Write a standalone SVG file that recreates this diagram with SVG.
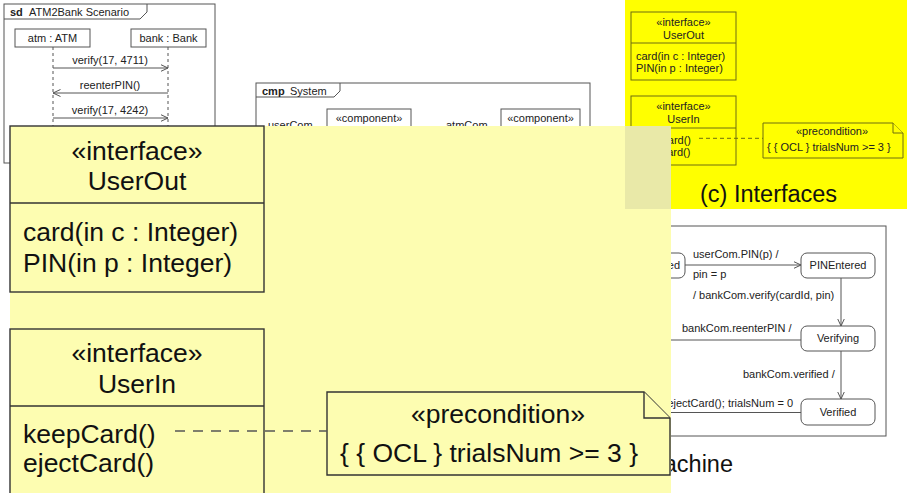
<svg xmlns="http://www.w3.org/2000/svg" width="907" height="493" viewBox="0 0 907 493">
  <style>
    text { font-family: "Liberation Sans", Arial, sans-serif; fill: #222; }
    .s { font-size: 11px; }
    .b { font-weight: bold; }
    .mid { text-anchor: middle; }
    .end { text-anchor: end; }
    .frame { fill: #fff; stroke: #555; stroke-width: 1; }
    .box { fill: #fff; stroke: #555; stroke-width: 1; }
    .line { fill: none; stroke: #555; stroke-width: 1; }
    .life { fill: none; stroke: #555; stroke-width: 1; stroke-dasharray: 3 3; }
    .ybox { fill: #ffff00; stroke: #6e6e10; stroke-width: 1; }
    .ydash { fill: none; stroke: #6e6e10; stroke-width: 1; stroke-dasharray: 4 3; }
    .state { fill: #fff; stroke: #555; stroke-width: 1; }
    .big { font-size: 26.5px; fill: #111; }
    .bbox { fill: #fdfdb1; stroke: #333; stroke-width: 1.4; }
    .bdash { fill: none; stroke: #555; stroke-width: 1.4; stroke-dasharray: 10 8; }
    .cap { font-size: 23.5px; fill: #111; }
  </style>
  <defs>
    <marker id="open" viewBox="0 0 8 8" refX="7.5" refY="4" markerWidth="8" markerHeight="8" markerUnits="userSpaceOnUse" orient="auto">
      <path d="M0,0.5 L7.5,4 L0,7.5" fill="none" stroke="#555" stroke-width="1"/>
    </marker>
  </defs>

  <!-- (a) sequence diagram -->
  <g id="seq-frame">
    <rect class="frame" x="4" y="4" width="211" height="159"/>
    <path class="line" d="M4,19 H140 L147,12 V4"/>
    <text class="s b" x="10" y="16">sd</text>
    <text class="s" x="29" y="16">ATM2Bank Scenario</text>
  </g>
  <g id="lifeline-atm">
    <rect class="box" x="15" y="29" width="75" height="18"/>
    <text class="s mid" x="52.5" y="42">atm : ATM</text>
    <line class="life" x1="53" y1="47" x2="53" y2="163"/>
  </g>
  <g id="lifeline-bank">
    <rect class="box" x="131" y="29" width="75" height="18"/>
    <text class="s mid" x="168.5" y="42">bank : Bank</text>
    <line class="life" x1="168" y1="47" x2="168" y2="163"/>
  </g>
  <g id="messages">
    <line class="line" x1="53" y1="68" x2="168" y2="68" marker-end="url(#open)"/>
    <text class="s mid" x="110" y="64">verify(17, 4711)</text>
    <line class="line" x1="168" y1="93" x2="53" y2="93" marker-end="url(#open)"/>
    <text class="s mid" x="110" y="89">reenterPIN()</text>
    <line class="line" x1="53" y1="118" x2="168" y2="118" marker-end="url(#open)"/>
    <text class="s mid" x="110" y="114">verify(17, 4242)</text>
  </g>

  <!-- (b) component diagram -->
  <g id="cmp-frame">
    <rect class="frame" x="256" y="83" width="334" height="120"/>
    <path class="line" d="M256,97 H334 L340,91 V83"/>
    <text class="s b" x="262" y="95">cmp</text>
    <text class="s" x="290" y="95">System</text>
  </g>
  <g id="cmp-user">
    <text class="s" x="268" y="129">userCom</text>
    <rect class="box" x="327" y="109" width="84" height="50"/>
    <text class="s mid" x="369" y="122">«component»</text>
  </g>
  <g id="cmp-atm">
    <text class="s" x="446" y="129">atmCom</text>
    <rect class="box" x="501" y="109" width="79" height="50"/>
    <text class="s mid" x="540.5" y="122">«component»</text>
  </g>

  <!-- (c) interfaces -->
  <rect x="625" y="0" width="282" height="209" fill="#ffff00"/>
  <g id="if-userout">
    <rect class="ybox" x="631" y="12" width="105" height="68"/>
    <line class="ybox" x1="631" y1="43" x2="736" y2="43"/>
    <text class="s mid" x="683.5" y="26">«interface»</text>
    <text class="s mid" x="683.5" y="38.5">UserOut</text>
    <text class="s" x="636" y="59.5">card(in c : Integer)</text>
    <text class="s" x="636" y="72.3">PIN(in p : Integer)</text>
  </g>
  <g id="if-userin">
    <rect class="ybox" x="631" y="96" width="105" height="69"/>
    <line class="ybox" x1="631" y1="128" x2="736" y2="128"/>
    <text class="s mid" x="683.5" y="110">«interface»</text>
    <text class="s mid" x="683.5" y="122.5">UserIn</text>
    <text class="s" x="636" y="143.5">keepCard()</text>
    <text class="s" x="636" y="155.5">ejectCard()</text>
  </g>
  <g id="if-note">
    <path class="ybox" d="M763,123 H893 L903,133 V158 H763 Z"/>
    <path class="ybox" d="M893,123 V133 H903" fill="none"/>
    <text class="s mid" x="832" y="135">«precondition»</text>
    <text class="s" x="767" y="151">{ { OCL } trialsNum &gt;= 3 }</text>
  </g>
  <g id="if-connectors">
    <line class="ydash" x1="699" y1="138.3" x2="763" y2="138.3"/>
  </g>
  <text class="cap" x="700" y="201.5">(c) Interfaces</text>

  <!-- (d) state machine -->
  <g id="sm-frame">
    <rect class="frame" x="455" y="226" width="431" height="210"/>
  </g>
  <g id="st-cardentered">
    <rect class="state" x="600" y="253" width="85" height="25" rx="6"/>
    <text class="s end" x="680" y="269">CardEntered</text>
  </g>
  <g id="st-pinentered">
    <rect class="state" x="801" y="253" width="74" height="25" rx="6"/>
    <text class="s mid" x="838" y="269">PINEntered</text>
  </g>
  <g id="st-verifying">
    <rect class="state" x="801" y="326" width="74" height="25" rx="6"/>
    <text class="s mid" x="838" y="342">Verifying</text>
  </g>
  <g id="st-verified">
    <rect class="state" x="801" y="399" width="74" height="26" rx="6"/>
    <text class="s mid" x="838" y="416">Verified</text>
  </g>
  <g id="transitions">
    <line class="line" x1="685" y1="265" x2="801" y2="265" marker-end="url(#open)"/>
    <text class="s" x="693" y="258">userCom.PIN(p) /</text>
    <text class="s" x="693" y="278">pin = p</text>
    <line class="line" x1="841" y1="278" x2="841" y2="326" marker-end="url(#open)"/>
    <text class="s" x="693" y="298.5">/ bankCom.verify(cardId, pin)</text>
    <line class="line" x1="801" y1="340" x2="600" y2="340"/>
    <text class="s" x="682" y="331.5">bankCom.reenterPIN /</text>
    <line class="line" x1="841" y1="351" x2="841" y2="399" marker-end="url(#open)"/>
    <text class="s" x="743" y="378">bankCom.verified /</text>
    <line class="line" x1="801" y1="412.5" x2="600" y2="412.5"/>
    <text class="s end" x="793" y="406.5">ejectCard(); trialsNum = 0</text>
  </g>
  <text class="cap end" x="733" y="472">(d) State Machine</text>

  <!-- magnified view of the interfaces panel -->
  <rect x="10" y="126" width="661" height="367" fill="#fdfdb1"/>
  <rect x="625" y="126" width="46" height="83" fill="#e9e9a8"/>
  <g id="big-userout">
    <rect class="bbox" x="10" y="126" width="254" height="166"/>
    <line class="bbox" x1="10" y1="203" x2="264" y2="203"/>
    <text class="big mid" x="137" y="160">«interface»</text>
    <text class="big mid" x="137" y="190">UserOut</text>
    <text class="big" x="23" y="241">card(in c : Integer)</text>
    <text class="big" x="23" y="272">PIN(in p : Integer)</text>
  </g>
  <g id="big-userin">
    <rect class="bbox" x="10" y="329" width="254" height="180"/>
    <line class="bbox" x1="10" y1="406" x2="264" y2="406"/>
    <text class="big mid" x="137" y="362">«interface»</text>
    <text class="big mid" x="137" y="393">UserIn</text>
    <text class="big" x="23" y="443">keepCard()</text>
    <text class="big" x="23" y="472">ejectCard()</text>
  </g>
  <g id="big-note">
    <path class="bbox" d="M327,392 H644 L670,418 V475 H327 Z"/>
    <path class="bbox" d="M644,392 V418 H670" fill="none"/>
    <text class="big mid" x="498" y="423">«precondition»</text>
    <text class="big" x="340" y="462">{ { OCL } trialsNum &gt;= 3 }</text>
  </g>
  <g id="big-connectors">
    <line class="bdash" x1="175" y1="431" x2="327" y2="431"/>
  </g>
</svg>
